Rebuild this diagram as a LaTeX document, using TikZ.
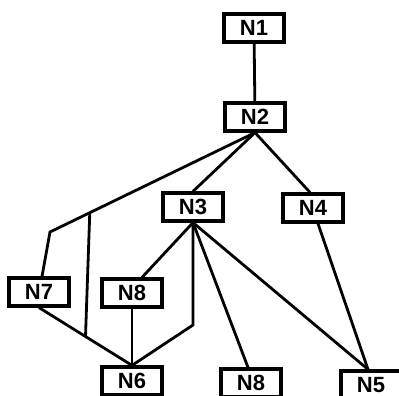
\documentclass[tikz,border=0pt]{standalone}
\usepackage{fontspec}
\setmainfont{Liberation Sans}
\usetikzlibrary{calc}
\tikzset{
	blk/.style={draw,line width=3.2pt,minimum width=60pt,minimum height=28pt,inner sep=0pt,font=\fontsize{22}{22}\selectfont\bfseries},
	wire/.style={line width=2.8pt}
}
\begin{document}
\begin{tikzpicture}[x=1pt,y=-1pt]
		\useasboundingbox (0,0) rectangle (399,396);
		\clip (0,0) rectangle (399,396);
		% boxes
			\node [blk] (N1) at (254,28) {N1};
			\node [blk] (N2) at (255,117) {N2};
			\node [blk] (N3) at (193,207) {N3};
			\node [blk] (N4) at (313,208) {N4};
			\node [blk] (N7) at (39,292) {N7};
			\node [blk] (N8a) at (132,293) {N8};
			\node [blk] (N6) at (132,381) {N6};
			\node [blk] (N8b) at (251,383) {N8};
			\node [blk] (N5) at (371,385) {N5};
		% bend points
			\coordinate (bendA) at (50,232);
			\coordinate (tapTop) at ($(N2.south)!0.806!(bendA)$);
			\coordinate (tapBot) at ($(N7.south)!0.5!(N6.north)$);
			\coordinate (kneeC) at (193,325);
		% top part
			\draw [wire] (N1) -- (N2);
			\draw [wire] (N2.south) -- (N3.north);
			\draw [wire] (N2.south) -- ([xshift=-3pt]N4.north);
			\draw [wire] (N2.south) -- (bendA) -- ([xshift=3pt]N7.north);
		% left part
			\draw [wire] (tapTop) -- (tapBot);
			\draw [wire] (N7.south) -- (N6.north);
			\draw [wire] (N3.south) -- ([xshift=10pt]N8a.north);
			\draw [wire] (N8a.south) -- (N6.north);
			\draw [wire] (N3.south) -- (kneeC) -- (N6.north);
		% right part
			\draw [wire] (N3.south) -- ([xshift=-3pt]N8b.north);
			\draw [wire] (N3.south) -- ([xshift=-3pt]N5.north);
			\draw [wire] ([xshift=5pt]N4.south) -- ([xshift=-3pt]N5.north);
	\end{tikzpicture}
\end{document}
